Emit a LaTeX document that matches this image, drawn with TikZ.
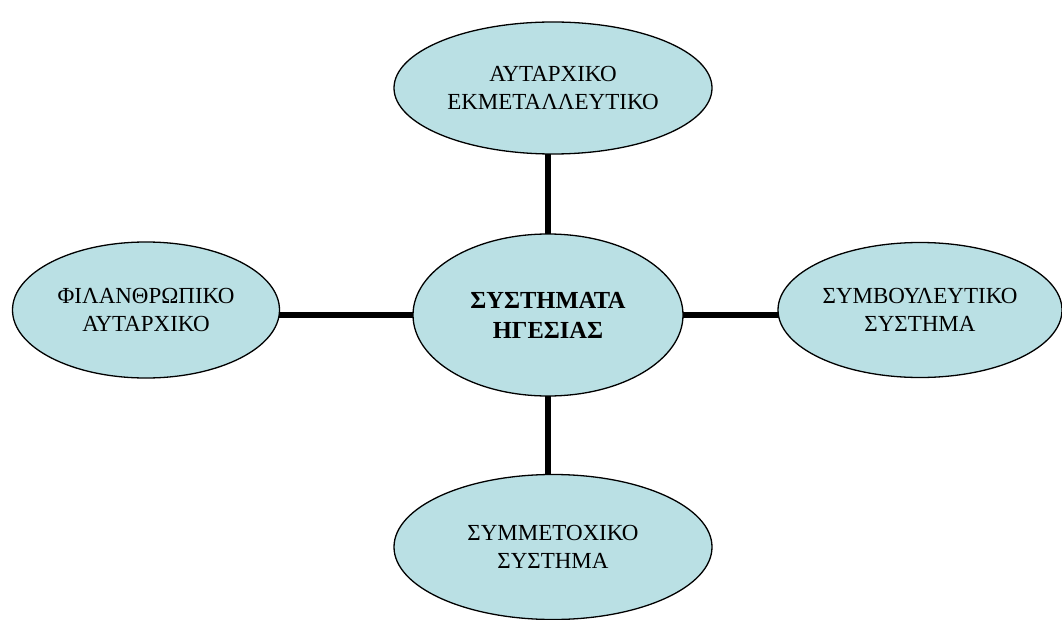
\documentclass[tikz,border=0pt]{standalone}
\usepackage{fontspec}
\setmainfont{Liberation Serif}
\usetikzlibrary{shapes.geometric}
\pgfdeclarelayer{background}
\pgfsetlayers{background,main}
\definecolor{bubble}{RGB}{186,224,228}
\tikzset{
  bubble/.style={ellipse, draw=black, line width=1.3pt, fill=bubble,
    inner sep=0pt, align=center, font=\fontsize{23}{28}\selectfont},
  link/.style={line width=5.5pt, draw=black}
}
\begin{document}
\begin{tikzpicture}[x=1pt, y=-1pt]
  \useasboundingbox (0,0) rectangle (1062,620);
  % central concept
  \node[bubble, minimum width=270pt, minimum height=162pt,
        font=\fontsize{24.5}{30}\selectfont\bfseries] (core) at (548,315)
        {ΣΥΣΤΗΜΑΤΑ\\ΗΓΕΣΙΑΣ};
  % the four leadership systems
  \node[bubble, minimum width=318pt, minimum height=132pt] (top) at (553,88)
        {ΑΥΤΑΡΧΙΚΟ\\ΕΚΜΕΤΑΛΛΕΥΤΙΚΟ};
  \node[bubble, minimum width=267pt, minimum height=136pt] (left) at (146,310)
        {ΦΙΛΑΝΘΡΩΠΙΚΟ\\ΑΥΤΑΡΧΙΚΟ};
  \node[bubble, minimum width=284pt, minimum height=135pt] (right) at (920,310)
        {ΣΥΜΒΟΥΛΕΥΤΙΚΟ\\ΣΥΣΤΗΜΑ};
  \node[bubble, minimum width=318pt, minimum height=145pt] (bottom) at (553,547)
        {ΣΥΜΜΕΤΟΧΙΚΟ\\ΣΥΣΤΗΜΑ};
  % connectors behind the ellipses
  \begin{pgfonlayer}{background}
    \draw[link] (core.center) -- (core.center |- top.center);
    \draw[link] (core.center) -- (core.center |- bottom.center);
    \draw[link] (core.center) -- (core.center -| left.center);
    \draw[link] (core.center) -- (core.center -| right.center);
  \end{pgfonlayer}
\end{tikzpicture}
\end{document}
